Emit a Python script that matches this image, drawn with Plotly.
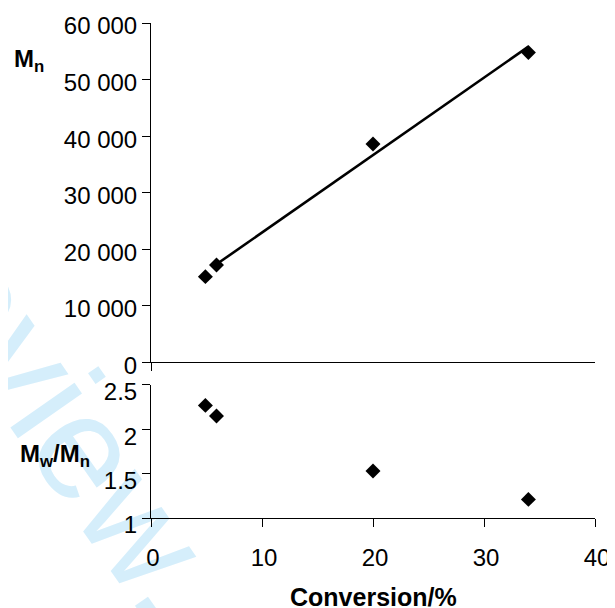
import numpy as np
import plotly.graph_objects as go

# ---- data ----
conversion = [4.9, 5.9, 20.0, 34.0]          # Conversion / %
mn_values = [15150, 17200, 38600, 54800]     # Mn
dispersity = [2.27, 2.15, 1.53, 1.21]        # Mw/Mn

mn_tickvals = [0, 10000, 20000, 30000, 40000, 50000, 60000]
pdi_tickvals = [1, 1.5, 2, 2.5]
conv_tickvals = [0, 10, 20, 30, 40]

# linear trend line of Mn vs conversion (drawn from the 2nd to last point)
slope, intercept = np.polyfit(conversion, mn_values, 1)
fit_x = np.array([conversion[1], conversion[-1]])
fit_y = slope * fit_x + intercept

FONT = "Liberation Sans, Arial, Helvetica, sans-serif"

fig = go.Figure()

fig.add_trace(go.Scatter(x=fit_x, y=fit_y, mode="lines",
                         line=dict(color="black", width=2.6),
                         xaxis="x", yaxis="y", hoverinfo="skip"))
fig.add_trace(go.Scatter(x=conversion, y=mn_values, mode="markers",
                         marker=dict(symbol="diamond", size=11.5, color="black"),
                         xaxis="x", yaxis="y"))
fig.add_trace(go.Scatter(x=conversion, y=dispersity, mode="markers",
                         marker=dict(symbol="diamond", size=11.5, color="black"),
                         xaxis="x2", yaxis="y2"))

axis_common = dict(showline=True, linecolor="black", linewidth=1,
                   showgrid=False, zeroline=False, ticks="outside",
                   ticklen=8, tickwidth=1, tickcolor="black", automargin=False,
                   ticklabeloverflow="allow",
                   tickfont=dict(family=FONT, size=24, color="black"))

# the page body adds an 8 px margin, so the figure is 8 px smaller and the
# margins 8 px tighter on the left/top
fig.update_layout(
    width=607, height=600,
    margin=dict(l=143, r=20, t=15, b=90, pad=0, autoexpand=False),
    paper_bgcolor="white", plot_bgcolor="white",
    showlegend=False,
    separators=". ",
    font=dict(family=FONT, color="black"),
    xaxis=dict(axis_common, domain=[0, 1], range=[0, 40], anchor="y",
               tickvals=[0], showticklabels=False),
    yaxis=dict(axis_common, domain=[0.3145, 1], range=[0, 60000], anchor="x",
               tickvals=mn_tickvals, tickformat=",d", ticklabelshift=3),
    xaxis2=dict(axis_common, domain=[0, 1], range=[0, 40], anchor="y2",
                tickvals=conv_tickvals, ticklabelstandoff=10, ticklabelshift=2),
    yaxis2=dict(axis_common, domain=[0, 0.2687], range=[1, 2.5], anchor="x2",
                tickvals=pdi_tickvals, ticklabelshift=7),
)

# watermark (light blue, behind everything)
cx, cy = -0.214, 0.2818
fig.add_shape(type="rect", xref="paper", yref="paper",
              x0=cx - 0.005, x1=cx + 0.005, y0=cy - 0.005, y1=cy + 0.005,
              line=dict(width=0, color="rgba(0,0,0,0)"),
              fillcolor="rgba(0,0,0,0)", layer="below",
              label=dict(text="Review.", textangle=55,
                         textposition="middle center",
                         font=dict(family=FONT, size=148,
                                   color="rgb(213,238,251)")))

# axis titles
fig.add_annotation(text="<b>M<sub>n</sub></b>", xref="paper", yref="paper",
                   x=-0.313, y=0.925, xanchor="left", yanchor="middle",
                   showarrow=False, font=dict(family=FONT, size=24, color="black"))
fig.add_annotation(text="<b>M<sub>w</sub>/M<sub>n</sub></b>", xref="paper", yref="paper",
                   x=-0.2995, y=0.127, xanchor="left", yanchor="middle",
                   showarrow=False, font=dict(family=FONT, size=24, color="black"))
fig.add_annotation(text="<b>Conversion/%</b>", xref="paper", yref="paper",
                   x=0.5, y=-0.16, xanchor="center", yanchor="middle",
                   showarrow=False, font=dict(family=FONT, size=25, color="black"))

fig.write_html("out.html")
